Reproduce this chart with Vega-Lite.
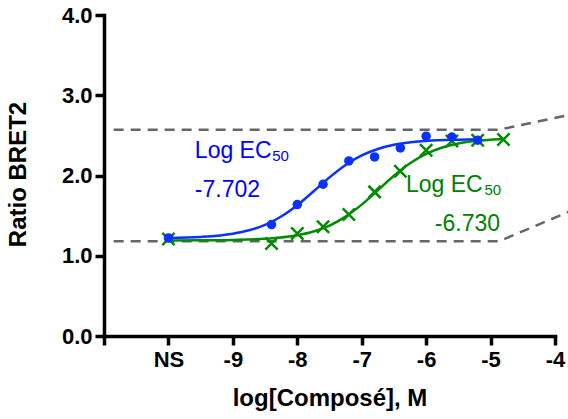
{
  "$schema": "https://vega.github.io/schema/vega-lite/v6.json",
  "width": 451,
  "height": 321,
  "autosize": {"type": "none"},
  "padding": {"left": 104, "top": 15, "right": 13, "bottom": 83},
  "config": {"view": {"stroke": null}, "font": "Liberation Sans"},
  "datasets": {
    "guides": [
      {"g": "haut", "x": -10.85, "y": 2.57},
      {"g": "haut", "x": -4.87, "y": 2.57},
      {"g": "haut", "x": -3.75, "y": 2.76},
      {"g": "bas", "x": -10.85, "y": 1.18},
      {"g": "bas", "x": -4.87, "y": 1.18},
      {"g": "bas", "x": -3.75, "y": 1.56}
    ],
    "curves": [
      {"s": "bleu", "x": -10, "y": 1.221},
      {"s": "bleu", "x": -9.5, "y": 1.234},
      {"s": "bleu", "x": -9, "y": 1.274},
      {"s": "bleu", "x": -8.75, "y": 1.317},
      {"s": "bleu", "x": -8.5, "y": 1.385},
      {"s": "bleu", "x": -8.25, "y": 1.489},
      {"s": "bleu", "x": -8.0, "y": 1.630},
      {"s": "bleu", "x": -7.75, "y": 1.801},
      {"s": "bleu", "x": -7.5, "y": 1.977},
      {"s": "bleu", "x": -7.25, "y": 2.131},
      {"s": "bleu", "x": -7.0, "y": 2.250},
      {"s": "bleu", "x": -6.75, "y": 2.330},
      {"s": "bleu", "x": -6.5, "y": 2.382},
      {"s": "bleu", "x": -6.0, "y": 2.431},
      {"s": "bleu", "x": -5.5, "y": 2.447},
      {"s": "bleu", "x": -5.2, "y": 2.451},
      {"s": "vert", "x": -10, "y": 1.191},
      {"s": "vert", "x": -9.5, "y": 1.192},
      {"s": "vert", "x": -9, "y": 1.197},
      {"s": "vert", "x": -8.5, "y": 1.211},
      {"s": "vert", "x": -8.0, "y": 1.255},
      {"s": "vert", "x": -7.75, "y": 1.302},
      {"s": "vert", "x": -7.5, "y": 1.376},
      {"s": "vert", "x": -7.25, "y": 1.487},
      {"s": "vert", "x": -7.0, "y": 1.637},
      {"s": "vert", "x": -6.75, "y": 1.815},
      {"s": "vert", "x": -6.5, "y": 1.996},
      {"s": "vert", "x": -6.25, "y": 2.152},
      {"s": "vert", "x": -6.0, "y": 2.269},
      {"s": "vert", "x": -5.75, "y": 2.349},
      {"s": "vert", "x": -5.5, "y": 2.399},
      {"s": "vert", "x": -5.25, "y": 2.429},
      {"s": "vert", "x": -5.0, "y": 2.447},
      {"s": "vert", "x": -4.8, "y": 2.455}
    ],
    "points": [
      {"s": "bleu", "x": -10, "y": 1.222},
      {"s": "bleu", "x": -8.4, "y": 1.389},
      {"s": "bleu", "x": -8.0, "y": 1.638},
      {"s": "bleu", "x": -7.6, "y": 1.891},
      {"s": "bleu", "x": -7.2, "y": 2.182},
      {"s": "bleu", "x": -6.8, "y": 2.232},
      {"s": "bleu", "x": -6.4, "y": 2.344},
      {"s": "bleu", "x": -6.0, "y": 2.49},
      {"s": "bleu", "x": -5.6, "y": 2.48},
      {"s": "bleu", "x": -5.2, "y": 2.44},
      {"s": "vert", "x": -10, "y": 1.21},
      {"s": "vert", "x": -8.4, "y": 1.152},
      {"s": "vert", "x": -8.0, "y": 1.277},
      {"s": "vert", "x": -7.6, "y": 1.36},
      {"s": "vert", "x": -7.2, "y": 1.514},
      {"s": "vert", "x": -6.8, "y": 1.796},
      {"s": "vert", "x": -6.4, "y": 2.054},
      {"s": "vert", "x": -6.0, "y": 2.315},
      {"s": "vert", "x": -5.6, "y": 2.43},
      {"s": "vert", "x": -5.2, "y": 2.44},
      {"s": "vert", "x": -4.8, "y": 2.449}
    ],
    "labels": [
      {"s": "bleu", "k": "big", "t": "Log EC", "x": -9.59, "y": 2.212},
      {"s": "bleu", "k": "sub", "t": "50", "x": -8.39, "y": 2.182},
      {"s": "bleu", "k": "big", "t": "-7.702", "x": -9.59, "y": 1.733},
      {"s": "vert", "k": "big", "t": "Log EC", "x": -6.314, "y": 1.796},
      {"s": "vert", "k": "sub", "t": "50", "x": -5.095, "y": 1.763},
      {"s": "vert", "k": "big", "t": "-6.730", "x": -5.865, "y": 1.309}
    ]
  },
  "encoding": {
    "x": {
      "field": "x",
      "type": "quantitative",
      "scale": {"domain": [-11, -4], "nice": false, "zero": false},
      "axis": {
        "values": [-11, -10, -9, -8, -7, -6, -5, -4],
        "labelExpr": "datum.value == -10 ? 'NS' : (datum.value == -11 ? '' : '' + datum.value)",
        "labelFont": "Liberation Sans",
        "labelFontWeight": "bold",
        "labelFontSize": 22,
        "labelColor": "#000000",
        "labelPadding": 4,
        "labelFlush": false,
        "labelOverlap": false,
        "tickSize": 9,
        "tickWidth": 3.5,
        "tickColor": "#000000",
        "domainWidth": 3.5,
        "domainColor": "#000000",
        "domainCap": "square",
        "grid": false,
        "title": "log[Composé], M",
        "titleFont": "Liberation Sans",
        "titleFontSize": 24,
        "titleFontWeight": "bold",
        "titleColor": "#000000",
        "titleBaseline": "alphabetic",
        "titleY": 69,
        "encode": {"labels": {"update": {"dy": {"signal": "datum.value == -10 ? 3 : 0"}}}}
      }
    },
    "y": {
      "field": "y",
      "type": "quantitative",
      "scale": {"domain": [0, 4], "nice": false, "zero": false},
      "axis": {
        "values": [0, 1, 2, 3, 4],
        "format": ".1f",
        "labelFont": "Liberation Sans",
        "labelFontWeight": "bold",
        "labelFontSize": 22,
        "labelColor": "#000000",
        "labelPadding": 3,
        "labelFlush": false,
        "labelOverlap": false,
        "tickSize": 9,
        "tickWidth": 3.5,
        "tickColor": "#000000",
        "domainWidth": 3.5,
        "domainColor": "#000000",
        "domainCap": "square",
        "grid": false,
        "title": "Ratio BRET2",
        "titleFont": "Liberation Sans",
        "titleFontSize": 24,
        "titleFontWeight": "bold",
        "titleColor": "#000000",
        "titleAngle": -90,
        "titleAlign": "center",
        "titleBaseline": "alphabetic",
        "titleX": -79,
        "titleY": 159
      }
    }
  },
  "layer": [
    {
      "data": {"name": "guides"},
      "mark": {"type": "line", "color": "#666666", "strokeWidth": 2.5, "strokeDash": [10, 7], "clip": false},
      "encoding": {"detail": {"field": "g", "type": "nominal"}}
    },
    {
      "data": {"name": "curves"},
      "transform": [{"filter": "datum.s == 'vert'"}],
      "mark": {"type": "line", "color": "#008c00", "strokeWidth": 2.5, "interpolate": "monotone"},
      "encoding": {}
    },
    {
      "data": {"name": "points"},
      "transform": [{"filter": "datum.s == 'vert'"}],
      "mark": {"type": "point", "shape": "M-1,-1L1,1M-1,1L1,-1", "filled": false, "color": "#008c00", "strokeWidth": 2.5, "size": 150, "opacity": 1},
      "encoding": {}
    },
    {
      "data": {"name": "curves"},
      "transform": [{"filter": "datum.s == 'bleu'"}],
      "mark": {"type": "line", "color": "#0a32ff", "strokeWidth": 2.5, "interpolate": "monotone"},
      "encoding": {}
    },
    {
      "data": {"name": "points"},
      "transform": [{"filter": "datum.s == 'bleu'"}],
      "mark": {"type": "circle", "color": "#0a32ff", "size": 90, "opacity": 1},
      "encoding": {}
    },
    {
      "data": {"name": "labels"},
      "transform": [{"filter": "datum.s == 'bleu' && datum.k == 'big'"}],
      "mark": {"type": "text", "align": "left", "baseline": "alphabetic", "fontSize": 23, "color": "#0000ff", "font": "Liberation Sans"},
      "encoding": {"text": {"field": "t"}}
    },
    {
      "data": {"name": "labels"},
      "transform": [{"filter": "datum.s == 'bleu' && datum.k == 'sub'"}],
      "mark": {"type": "text", "align": "left", "baseline": "alphabetic", "fontSize": 15, "color": "#0000ff", "font": "Liberation Sans"},
      "encoding": {"text": {"field": "t"}}
    },
    {
      "data": {"name": "labels"},
      "transform": [{"filter": "datum.s == 'vert' && datum.k == 'big'"}],
      "mark": {"type": "text", "align": "left", "baseline": "alphabetic", "fontSize": 23, "color": "#008000", "font": "Liberation Sans"},
      "encoding": {"text": {"field": "t"}}
    },
    {
      "data": {"name": "labels"},
      "transform": [{"filter": "datum.s == 'vert' && datum.k == 'sub'"}],
      "mark": {"type": "text", "align": "left", "baseline": "alphabetic", "fontSize": 15, "color": "#008000", "font": "Liberation Sans"},
      "encoding": {"text": {"field": "t"}}
    }
  ]
}
